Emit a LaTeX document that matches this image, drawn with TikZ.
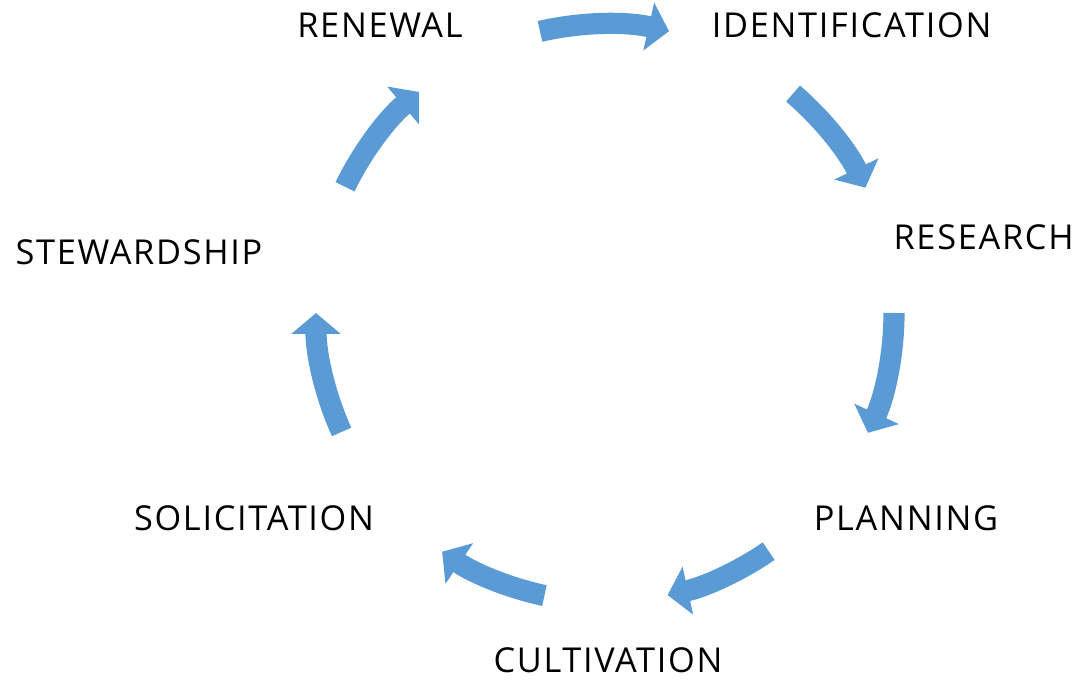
\documentclass[tikz,border=0pt]{standalone}
\usepackage{fontspec}
\setmainfont{Open Sans}[LetterSpace=5]
\usetikzlibrary{arrows.meta,calc}
\definecolor{ringblue}{HTML}{5B9BD5}

\begin{document}
\begin{tikzpicture}[stage/.style={font=\fontsize{24.4}{29}\selectfont, inner sep=0pt},
    cycarrow/.style={draw=ringblue, line width=0.53cm, -{Triangle[width=1.2cm,length=0.52cm]}}]
    \useasboundingbox (0,0) rectangle (26.95,17);
    \coordinate (hub) at (15.125, 9.175);

    \node[stage] (renewal) at (9.5, 16.375) {RENEWAL};
    \node[stage] (ident) at (21.29, 16.375) {IDENTIFICATION};
    \node[stage] (research) at (24.59, 11.06) {RESEARCH};
    \node[stage] (planning) at (22.65, 4.05) {PLANNING};
    \node[stage] (cultiv) at (15.2, 0.5) {CULTIVATION};
    \node[stage] (solicit) at (6.35, 4.05) {SOLICITATION};
    \node[stage] (steward) at (3.475, 10.69) {STEWARDSHIP};

    % arrows round the ring, tail end first
    \coordinate (a1) at ($(hub)+(103:7.225)$);
    \coordinate (a2) at ($(hub)+(49.4:7.225)$);
    \coordinate (a3) at ($(hub)+(0:7.225)$);
    \coordinate (a4) at ($(hub)+(-55.5:7.225)$);
    \coordinate (a5) at ($(hub)+(-102.1:7.225)$);
    \coordinate (a6) at ($(hub)+(-155.7:7.225)$);
    \coordinate (a7) at ($(hub)+(154.1:7.225)$);

    \draw[cycarrow] (a1) arc[start angle=103, end angle=77.2, radius=7.225];
    \draw[cycarrow] (a2) arc[start angle=49.4, end angle=25.7, radius=7.225];
    \draw[cycarrow] (a3) arc[start angle=0, end angle=-24.5, radius=7.225];
    \draw[cycarrow] (a4) arc[start angle=-55.5, end angle=-77.5, radius=7.225];
    \draw[cycarrow] (a5) arc[start angle=-102.1, end angle=-124.3, radius=7.225];
    \draw[cycarrow] (a6) arc[start angle=-155.7, end angle=-180, radius=7.225];
    \draw[cycarrow] (a7) arc[start angle=154.1, end angle=130.1, radius=7.225];
\end{tikzpicture}
\end{document}
